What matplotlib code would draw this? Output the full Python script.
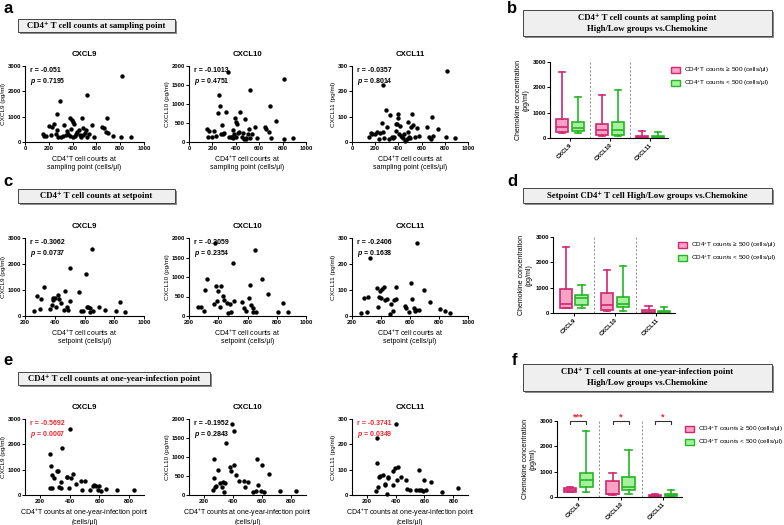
import numpy as np
import matplotlib.pyplot as plt
from matplotlib.patches import Rectangle, Patch

plt.rcParams['font.family'] = ['Liberation Sans', 'DejaVu Sans']
plt.rcParams['mathtext.fontset'] = 'custom'
plt.rcParams['mathtext.rm'] = 'Liberation Sans'
plt.rcParams['mathtext.it'] = 'Liberation Sans:italic:bold'
plt.rcParams['mathtext.bf'] = 'Liberation Sans:bold'

# ---- sampling point (row a) ----
x_samp = [150, 160, 175, 200, 215, 230, 245, 260, 265, 270, 280, 290, 300, 320, 330,
          345, 355, 365, 375, 380, 385, 395, 400, 405, 410, 420, 430, 440, 450, 460,
          470, 480, 485, 490, 500, 510, 520, 525, 540, 560, 580, 650, 660, 680, 690,
          700, 740, 810, 815, 890]
cxcl9_samp = [310, 250, 220, 620, 280, 600, 720, 310, 1110, 480, 200, 1610, 190, 250, 680,
              280, 450, 300, 220, 960, 520, 850, 790, 200, 700, 250, 330, 380, 470, 290,
              200, 950, 560, 260, 350, 480, 1840, 200, 330, 660, 200, 580, 560, 400, 930,
              370, 250, 200, 2590, 190]
cxcl10_samp = [340, 140, 300, 140, 300, 160, 760, 1240, 940, 220, 440, 200, 230, 780, 1850,
               120, 140, 120, 320, 110, 200, 630, 520, 130, 470, 250, 260, 790, 120, 250,
               90, 610, 80, 110, 200, 350, 1370, 100, 200, 400, 100, 390, 350, 270, 940,
               100, 560, 90, 1670, 110]
cxcl11_samp = [20, 35, 32, 30, 40, 10, 35, 75, 225, 40, 15, 128, 60, 10, 107,
               20, 15, 20, 72, 45, 70, 95, 110, 30, 65, 25, 20, 15, 30, 5,
               10, 80, 40, 20, 15, 60, 110, 68, 20, 55, 25, 60, 20, 10, 100,
               25, 52, 20, 280, 15]

# ---- setpoint (row c) ----
x_set = [260, 280, 300, 310, 325, 370, 380, 385, 390, 400, 410, 420, 430, 440, 460,
         470, 480, 490, 500, 505, 565, 575, 590, 610, 615, 625, 635, 640, 650, 660,
         700, 740, 810, 840, 875]
cxcl9_set = [180, 780, 260, 650, 1110, 270, 430, 700, 600, 680, 330, 820, 660, 500, 250,
             950, 350, 220, 1840, 560, 940, 180, 190, 1610, 330, 345, 310, 150, 2590, 190,
             360, 220, 180, 540, 170]
cxcl10_set = [230, 240, 120, 660, 940, 300, 1860, 760, 390, 630, 220, 780, 520, 420, 330,
              80, 300, 110, 1370, 390, 350, 200, 120, 450, 800, 270, 200, 90, 1680, 90,
              940, 560, 100, 340, 110]
cxcl11_set = [10, 70, 15, 75, 225, 108, 35, 75, 95, 70, 105, 110, 60, 65, 8,
              45, 20, 60, 110, 65, 38, 30, 15, 128, 65, 30, 20, 25, 280, 22,
              100, 52, 28, 20, 12]

# ---- one-year-infection point (row e) ----
x_year = [265, 270, 272, 280, 283, 295, 315, 325, 330, 340, 345, 350, 380, 385, 395,
          405, 410, 420, 440, 475, 480, 500, 540, 560, 565, 575, 590, 600, 610, 645,
          720, 830]
cxcl9_year = [280, 1610, 1130, 780, 280, 680, 950, 940, 300, 260, 500, 1840, 730, 700, 260,
              2590, 660, 830, 440, 570, 190, 550, 200, 350, 380, 360, 200, 350, 140, 240,
              190, 190]
cxcl10_year = [120, 440, 940, 200, 250, 650, 320, 220, 350, 80, 320, 1370, 750, 630, 1860,
               1680, 780, 520, 380, 380, 200, 330, 80, 100, 940, 260, 100, 790, 80, 560,
               110, 100]
cxcl11_year = [15, 225, 128, 30, 70, 75, 80, 40, 45, 5, 70, 68, 40, 95, 105,
               280, 58, 110, 72, 60, 25, 18, 20, 18, 100, 20, 14, 60, 18, 52,
               12, 28]

# box stats per chemokine: [min, q1, median, q3, max]
chemokines = ['CXCL9', 'CXCL10', 'CXCL11']
b_high = [[190, 220, 450, 740, 2600], [70, 100, 310, 540, 1680], [5, 10, 35, 80, 280]]
b_low = [[190, 260, 400, 650, 1620], [80, 120, 300, 620, 1880], [5, 10, 30, 70, 220]]
d_high = [[180, 200, 370, 930, 2590], [80, 110, 330, 790, 1680], [5, 10, 30, 100, 280]]
d_low = [[200, 300, 590, 720, 1100], [80, 240, 370, 650, 1870], [5, 15, 40, 90, 220]]
f_high = [[180, 200, 290, 370, 380], [80, 100, 130, 620, 940], [10, 20, 45, 70, 100]]
f_low = [[180, 380, 660, 930, 2590], [110, 280, 390, 780, 1870], [10, 30, 60, 130, 290]]
f_stars = ['***', '*', '*']

W, H = 784, 525
fig = plt.figure(figsize=(7.84, 5.25), dpi=100)

PINK_F, PINK_E = '#f7a3c6', '#d2276f'
GREEN_F, GREEN_E = '#a6f29c', '#26b526'
RED = '#e8262d'


def px_axes(l, t, r, b):
    return fig.add_axes([l / W, 1 - b / H, (r - l) / W, (b - t) / H])


def style(ax):
    for s in ['top', 'right']:
        ax.spines[s].set_visible(False)
    for s in ['left', 'bottom']:
        ax.spines[s].set_linewidth(0.8)
    ax.tick_params(labelsize=4.2, length=2, width=0.7, pad=1)
    for lab in ax.get_xticklabels() + ax.get_yticklabels():
        lab.set_fontweight('bold')


def scatter_panel(ax, x, y, xlim, xticks, yticks, title, ylabel, xlabel, r, p, red=False):
    ax.scatter(x, y, s=10, c='black', clip_on=False, zorder=3, linewidths=0)
    ax.set_xlim(xlim)
    ax.set_ylim(yticks[0], yticks[-1])
    ax.set_xticks(xticks)
    ax.set_yticks(yticks)
    style(ax)
    ax.set_title(title, fontsize=5.6, fontweight='bold', pad=7)
    ax.set_ylabel(ylabel, fontsize=4.6, labelpad=1)
    ax.set_xlabel(xlabel, fontsize=5, labelpad=2, linespacing=1.05)
    col = RED if red else 'black'
    ax.text(0.04, 0.99, f'r = {r}', transform=ax.transAxes, fontsize=5,
            color=col, va='top', fontweight='bold')
    ax.text(0.04, 0.87, f'$\\mathit{{p}}$ = {p}', transform=ax.transAxes,
            fontsize=5, color=col, va='top', fontweight='bold')


def box_panel(ax, high, low, stars=None):
    groups = np.arange(len(chemokines))
    for stats, off, fc, ec in [(high, -0.19, PINK_F, PINK_E), (low, 0.19, GREEN_F, GREEN_E)]:
        bs = [dict(whislo=s[0], q1=s[1], med=s[2], q3=s[3], whishi=s[4], fliers=[]) for s in stats]
        lp = dict(color=ec, linewidth=1.2)
        ax.bxp(bs, positions=groups + off, widths=0.3, patch_artist=True, showfliers=False,
               boxprops=dict(facecolor=fc, edgecolor=ec, linewidth=1.2),
               medianprops=lp, whiskerprops=lp, capprops=lp, manage_ticks=False)
    for xv in [0.5, 1.5]:
        ax.axvline(xv, color='#888888', lw=0.7, ls=(0, (2, 2)))
    ax.set_xlim(-0.5, 2.45)
    ax.set_ylim(0, 3000)
    ax.set_yticks([0, 1000, 2000, 3000])
    ax.set_xticks(groups)
    ax.set_xticklabels(chemokines, rotation=45, ha='right', rotation_mode='anchor')
    style(ax)
    ax.set_ylabel('Chemokine concentration\n(pg/ml)', fontsize=5, labelpad=2, linespacing=1.1)
    handles = [Patch(facecolor=PINK_F, edgecolor=PINK_E, lw=1.0, label='CD4$^{+}$T counts ≥ 500 (cells/μl)'),
               Patch(facecolor=GREEN_F, edgecolor=GREEN_E, lw=1.0, label='CD4$^{+}$T counts < 500 (cells/μl)')]
    ax.legend(handles=handles, loc='upper left', bbox_to_anchor=(1.0, 0.98), frameon=False,
              fontsize=4.6, handlelength=1.5, handleheight=0.9, handletextpad=0.6,
              labelspacing=0.6, borderaxespad=0)
    if stars:
        for g, st in zip(groups, stars):
            ax.plot([g - 0.19, g - 0.19, g + 0.19, g + 0.19], [2880, 3000, 3000, 2880],
                    color='#333333', lw=0.8, clip_on=False)
            ax.text(g, 2990, st, ha='center', va='bottom', color=RED, fontsize=6.5, fontweight='bold')


def title_box(l, t, r, b, text):
    fig.patches.append(Rectangle(((l + 1.5) / W, 1 - (b + 1.5) / H), (r - l) / W, (b - t) / H,
                                 transform=fig.transFigure, fc='#8a8a8a', ec='none'))
    fig.patches.append(Rectangle((l / W, 1 - b / H), (r - l) / W, (b - t) / H,
                                 transform=fig.transFigure, fc='#efefef', ec='#444444', lw=0.7))
    fig.text((l + r) / 2 / W, 1 - (t + b) / 2 / H, text, ha='center', va='center', fontsize=6.3,
             fontweight='bold', family=['Liberation Serif', 'DejaVu Serif'], linespacing=1.5)


def letter(x, y, s):
    fig.text(x / W, 1 - y / H, s, fontsize=12, fontweight='bold', va='top')


# scatter rows
cols = [(25, 144), (189, 306), (352, 468)]
ylabels = ['CXCL9 (pg/ml)', 'CXCL10 (pg/ml)', 'CXCL11 (pg/ml)']
yticks = [[0, 1000, 2000, 3000], [0, 500, 1000, 1500, 2000], [0, 100, 200, 300]]

rows = [
    dict(t=66, b=142, x=x_samp, ys=[cxcl9_samp, cxcl10_samp, cxcl11_samp], xlim=(0, 1000),
         xticks=[0, 200, 400, 600, 800, 1000],
         xlabel='CD4$^{+}$T cell counts at\nsampling point (cells/μl)',
         r=['-0.051', '-0.1013', '-0.0357'], p=['0.7195', '0.4751', '0.8014'], red=[False] * 3),
    dict(t=238, b=316, x=x_set, ys=[cxcl9_set, cxcl10_set, cxcl11_set], xlim=(200, 1000),
         xticks=[200, 400, 600, 800, 1000],
         xlabel='CD4$^{+}$T cell counts at\nsetpoint (cells/μl)',
         r=['-0.3062', '-0.2059', '-0.2406'], p=['0.0737', '0.2354', '0.1638'], red=[False] * 3),
    dict(t=419, b=495, x=x_year, ys=[cxcl9_year, cxcl10_year, cxcl11_year], xlim=(100, 900),
         xticks=[200, 400, 600, 800],
         xlabel='CD4$^{+}$T counts at one-year-infection point\n(cells/μl)',
         r=['-0.5692', '-0.1952', '-0.3741'], p=['0.0007', '0.2843', '0.0349'], red=[True, False, True]),
]

for row in rows:
    for i, (l, rr) in enumerate(cols):
        ax = px_axes(l, row['t'], rr, row['b'])
        scatter_panel(ax, row['x'], row['ys'][i], row['xlim'], row['xticks'], yticks[i],
                      chemokines[i], ylabels[i], row['xlabel'], row['r'][i], row['p'][i], row['red'][i])

box_panel(px_axes(550, 62, 668, 138), b_high, b_low)
box_panel(px_axes(553, 237, 675, 313), d_high, d_low)
box_panel(px_axes(557, 421, 682, 497), f_high, f_low, f_stars)

title_box(18, 19, 175, 32, 'CD4⁺ T cell counts at sampling point')
title_box(523, 10, 772, 36, 'CD4⁺ T cell counts at sampling point\nHigh/Low groups vs.Chemokine')
title_box(18, 189, 175, 203, 'CD4⁺ T cell counts at setpoint')
title_box(523, 188, 772, 203, 'Setpoint CD4⁺ T cell High/Low groups vs.Chemokine')
title_box(18, 372, 210, 385, 'CD4⁺ T cell counts at one-year-infection point')
title_box(523, 364, 772, 391, 'CD4⁺ T cell counts at one-year-infection point\nHigh/Low groups vs.Chemokine')

letter(3, 1, 'a')
letter(507, 1, 'b')
letter(3, 174, 'c')
letter(507, 174, 'd')
letter(3, 353, 'e')
letter(512, 353, 'f')

fig.savefig('out.png', dpi=100)
